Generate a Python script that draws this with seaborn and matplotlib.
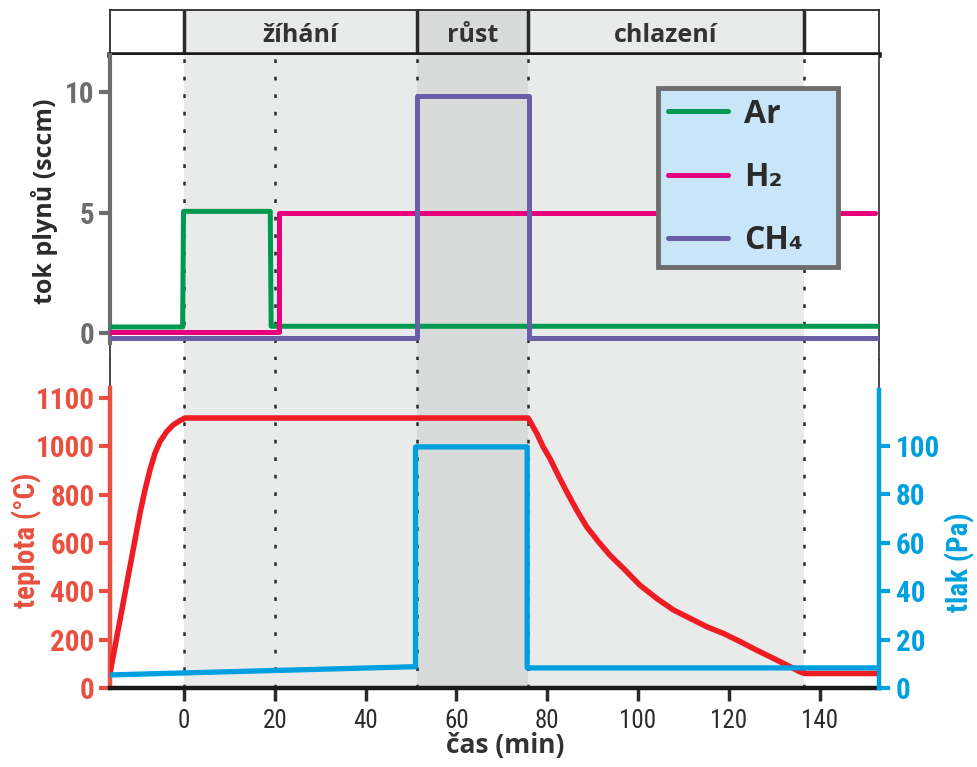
import pandas as pd
import matplotlib.pyplot as plt
import seaborn as sns

# gas flows (sccm), step profiles: time (min) / value
t_ar = [-16.3, -0.3, -0.1, 19.0, 19.2, 153.1]
ar = [0.25, 0.25, 5.05, 5.05, 0.28, 0.28]
t_h2 = [-16.3, 21.0, 21.0, 152.3]
h2 = [0.05, 0.05, 5.0, 5.0]
t_ch4 = [-16.3, 51.4, 51.4, 75.9, 75.9, 153.0]
ch4 = [-0.2, -0.2, 9.85, 9.85, -0.2, -0.2]

# temperature (°C)
t_temp = [-16.3, -15.2, -14.1, -13.0, -11.9, -10.8, -9.7, -8.6, -7.5, -6.4,
          -5.3, -3.8, -2.4, -0.9, 0.2, 75.8, 77.7, 79.1, 80.6, 82.4, 84.3,
          86.5, 88.7, 91.3, 93.8, 96.8, 100.4, 104.1, 107.8, 111.5, 115.1,
          118.8, 122.5, 126.1, 129.8, 132.8, 135.7, 136.8, 152.8]
temp = [61, 171, 281, 392, 502, 612, 723, 819, 902, 971,
        1019, 1061, 1088, 1106, 1117, 1117, 1054, 998, 950, 881, 812,
        736, 667, 605, 550, 495, 426, 371, 323, 288, 254,
        226, 192, 157, 123, 95, 67, 60, 60]

# pressure (Pa)
t_pres = [-16.3, 51.0, 51.0, 75.6, 75.6, 152.8]
pres = [5.4, 8.8, 99.6, 99.6, 8.3, 8.3]

phase_edges = [0, 51.4, 75.8, 136.6]
phase_names = ["žíhání", "růst", "chlazení"]
dotted_t = [0, 20, 51.4, 75.8, 136.6]

x_ticks = [0, 20, 40, 60, 80, 100, 120, 140]
flow_ticks = [0, 5, 10]
temp_ticks = [0, 200, 400, 600, 800, 1000, 1200]
temp_labels = ["0", "200", "400", "600", "800", "1000", "1100"]
pres_ticks = [0, 20, 40, 60, 80, 100]

gas_names = ["Ar", "H₂", "CH₄"]
gas_colors = ["#00994f", "#e6007e", "#6b5ea8"]
c_temp = "#ee1c25"
c_temp_ax = "#e8503f"
c_pres = "#00a0e0"
c_gray = "#6d6d6d"
c_dark = "#2b2b2b"
light = "#e9eaea"
darker = "#d9dada"

sns.set_theme(style="white")
cond = ["Roboto Condensed", "Liberation Sans Narrow", "DejaVu Sans"]
humanist = ["Open Sans", "DejaVu Sans"]
plt.rcParams["font.family"] = cond
plt.rcParams["font.stretch"] = "condensed"

fig = plt.figure(figsize=(9.77, 7.67), dpi=100)
L, W = 110 / 977, 769 / 977
ax_h = fig.add_axes([L, 1 - 55 / 767, W, 45 / 767])
ax_f = fig.add_axes([L, 1 - 360 / 767, W, 305 / 767])
ax_t = fig.add_axes([L, 1 - 688 / 767, W, 328 / 767])
ax_p = ax_t.twinx()
xlim = (-16.3, 153.1)

# shading of phases
for ax in (ax_h, ax_f, ax_t):
    ax.set_xlim(*xlim)
    ax.axvspan(phase_edges[0], phase_edges[-1], color=light, lw=0, zorder=0)
    ax.axvspan(phase_edges[1], phase_edges[2], color=darker, lw=0, zorder=0)
for ax in (ax_f, ax_t):
    ax.vlines(dotted_t, 0, 1, transform=ax.get_xaxis_transform(), color=c_dark,
              lw=1.8, linestyle=(0, (1.5, 5.5)), zorder=1)

# header
ax_h.set_ylim(0, 1)
ax_h.vlines(phase_edges, 0, 1, color=c_dark, lw=2.5, zorder=2)
for i, name in enumerate(phase_names):
    ax_h.text((phase_edges[i] + phase_edges[i + 1]) / 2, 0.43, name, ha="center",
              va="center", fontsize=18, fontweight="bold", color="#333333",
              family=humanist, stretch="normal")
ax_h.set_xticks([])
ax_h.set_yticks([])
for s in ("top", "left", "right"):
    ax_h.spines[s].set_color(c_dark)
    ax_h.spines[s].set_linewidth(1.3)
ax_h.spines["bottom"].set_color("#1a1a1a")
ax_h.spines["bottom"].set_linewidth(4)

# gas flows
for tt, vv, name, col in zip([t_ar, t_h2, t_ch4], [ar, h2, ch4], gas_names, gas_colors):
    df = pd.DataFrame({"t": tt, "v": vv})
    sns.lineplot(data=df, x="t", y="v", ax=ax_f, color=col, lw=3.6, sort=False,
                 estimator=None, label=name, zorder=3)
ax_f.set_ylim(-1.12, 11.54)
ax_f.set_yticks(flow_ticks)
ax_f.set_yticklabels([str(v) for v in flow_ticks], fontweight="bold")
ax_f.tick_params(axis="y", direction="out", length=8, width=3, color=c_gray,
                 labelcolor=c_gray, labelsize=21, pad=3, left=True)
ax_f.tick_params(axis="x", bottom=False, labelbottom=False)
ax_f.set_xlabel("")
ax_f.spines["top"].set_visible(False)
ax_f.spines["bottom"].set_visible(False)
ax_f.spines["left"].set_color(c_gray)
ax_f.spines["left"].set_linewidth(3)
ax_f.spines["left"].set_bounds(-0.4, 11.54)
ax_f.spines["right"].set_color(c_dark)
ax_f.spines["right"].set_linewidth(1.2)
ax_f.axvline(xlim[0], color=c_dark, lw=1.2, zorder=0.5, clip_on=False)
ax_f.set_ylabel("tok plynů (sccm)", fontsize=18, fontweight="bold", color=c_dark,
                family=humanist, stretch="normal")
ax_f.yaxis.set_label_coords(-0.068, 0.52)

handles, labels = ax_f.get_legend_handles_labels()
leg = ax_f.legend(handles, labels, loc="upper left", mode="expand",
                  bbox_to_anchor=(0.7126, 0.30, 0.234, 0.592), borderaxespad=0,
                  frameon=True, fancybox=False, facecolor="#c8e6f8", edgecolor=c_gray,
                  framealpha=1, handlelength=1.9, handletextpad=0.5, labelspacing=0.95,
                  borderpad=0.3, prop={"family": humanist, "stretch": "normal",
                                        "weight": "bold", "size": 23})
leg.get_frame().set_linewidth(3.5)
leg.set_zorder(10)
for t in leg.get_texts():
    t.set_color(c_dark)

# temperature and pressure
df_t = pd.DataFrame({"t": t_temp, "T": temp})
sns.lineplot(data=df_t, x="t", y="T", ax=ax_t, color=c_temp, lw=4, sort=False,
             estimator=None, zorder=3)
df_p = pd.DataFrame({"t": t_pres, "p": pres})
sns.lineplot(data=df_p, x="t", y="p", ax=ax_p, color=c_pres, lw=3.8, sort=False,
             estimator=None, zorder=3)

ax_t.set_ylim(0, 1357)
ax_p.set_ylim(0, 135.5)
ax_t.set_xticks(x_ticks)
ax_t.set_xticklabels([str(v) for v in x_ticks])
ax_t.tick_params(axis="x", direction="out", length=9, width=2.5, color=c_dark,
                 labelcolor=c_dark, labelsize=18, pad=6, bottom=True)
ax_t.set_yticks(temp_ticks)
ax_t.set_yticklabels(temp_labels, fontweight="bold")
ax_t.tick_params(axis="y", direction="out", length=8, width=3, color=c_temp_ax,
                 labelcolor=c_temp_ax, labelsize=21, pad=3, left=True)
ax_p.set_yticks(pres_ticks)
ax_p.set_yticklabels([str(v) for v in pres_ticks], fontweight="bold")
ax_p.tick_params(axis="y", direction="out", length=8, width=3, color=c_pres,
                 labelcolor=c_pres, labelsize=21, pad=4, right=True)

for s in ("top", "right"):
    ax_t.spines[s].set_visible(False)
for s in ("top", "left", "bottom"):
    ax_p.spines[s].set_visible(False)
ax_t.spines["left"].set_color(c_temp_ax)
ax_t.spines["left"].set_linewidth(3.2)
ax_t.spines["left"].set_bounds(0, 1241)
ax_t.spines["bottom"].set_color("#1a1a1a")
ax_t.spines["bottom"].set_linewidth(3.2)
ax_p.spines["right"].set_color(c_pres)
ax_p.spines["right"].set_linewidth(3.2)
ax_p.spines["right"].set_bounds(0, 123)
ax_t.axvline(xlim[0], color=c_dark, lw=1.2, zorder=0.5, clip_on=False)
ax_t.axvline(xlim[1], color=c_dark, lw=1.2, zorder=0.5, clip_on=False)

ax_t.set_xlabel("čas (min)", fontsize=19, fontweight="bold", color="#333333",
                family=humanist, stretch="normal")
ax_t.xaxis.set_label_coords(0.514, -0.135)
ax_t.set_ylabel("teplota (°C)", fontsize=21, fontweight="bold", color=c_temp_ax)
ax_t.yaxis.set_label_coords(-0.088, 0.451)
ax_p.set_ylabel("tlak (Pa)", fontsize=21, fontweight="bold", color=c_pres, rotation=90)
ax_p.yaxis.set_label_coords(1.086, 0.384)

fig.savefig("out.png", dpi=100)
